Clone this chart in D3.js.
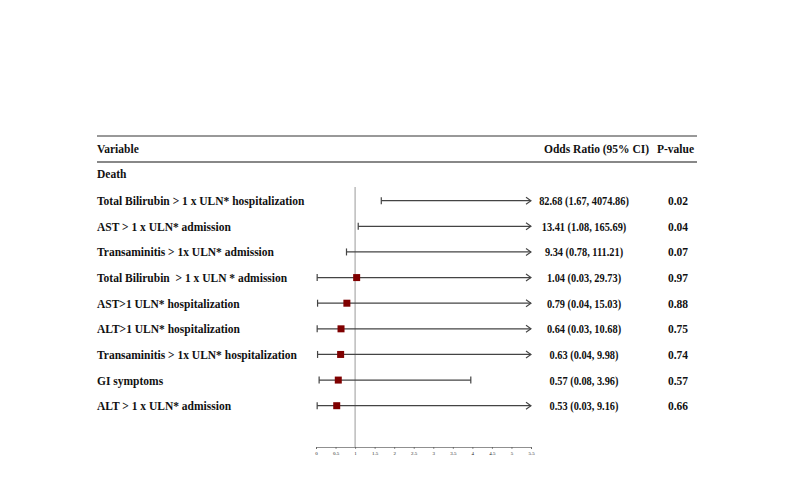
<!DOCTYPE html>
<html><head><meta charset="utf-8">
<script src="https://cdn.jsdelivr.net/npm/d3@7"></script>
<style>body{margin:0;background:#fff}svg{display:block}text{white-space:pre}</style>
</head><body><svg id="c" width="800" height="488"></svg>
<script>
const variables = ["Total Bilirubin > 1 x ULN* hospitalization","AST > 1 x ULN* admission","Transaminitis > 1x ULN* admission","Total Bilirubin  > 1 x ULN * admission","AST>1 ULN* hospitalization","ALT>1 ULN* hospitalization","Transaminitis > 1x ULN* hospitalization","GI symptoms","ALT > 1 x ULN* admission"];
const oddsRatio = [82.68,13.41,9.34,1.04,0.79,0.64,0.63,0.57,0.53];
const lower = [1.67,1.08,0.78,0.03,0.04,0.03,0.04,0.08,0.03];
const upper = [4074.86,165.69,111.21,29.73,15.03,10.68,9.98,3.96,9.16];
const pValues = ["0.02","0.04","0.07","0.97","0.88","0.75","0.74","0.57","0.66"];
const ticks = [0,0.5,1,1.5,2,2.5,3,3.5,4,4.5,5,5.5];

const svg = d3.select("#c");
const font = "'Liberation Serif','Times New Roman',serif";
const x = d3.scaleLinear().domain([0,5.5]).range([316,531]);
const y = d3.scaleLinear().domain([0,8]).range([200.7,405.7]);
const fmt = v => v.toFixed(2);

// header lines
svg.append("line").attr("x1",97).attr("x2",697).attr("y1",136).attr("y2",136).attr("stroke","#333").attr("stroke-width",1);
svg.append("line").attr("x1",97).attr("x2",697).attr("y1",162).attr("y2",162).attr("stroke","#888").attr("stroke-width",2);

const txt = (parent,t,xx,yy,anchor) => parent.append("text").attr("x",xx).attr("y",yy).attr("text-anchor",anchor||"start")
  .attr("font-family",font).attr("font-weight","bold").attr("font-size",11.5).attr("fill","#111").text(t);
txt(svg,"Variable",97,153);
txt(svg,"Odds Ratio (95% CI)",544,153);
txt(svg,"P-value",657,153);
txt(svg,"Death",97,178);

// reference line
svg.append("line").attr("x1",x(1)).attr("x2",x(1)).attr("y1",187).attr("y2",447).attr("stroke","#999").attr("stroke-width",1);

const rows = svg.append("g").selectAll("g").data(variables).join("g");
rows.each(function(d,i){
  const g = d3.select(this), yy = y(i);
  txt(g,d,97,yy+4.5);
  g.append("g").attr("transform",`translate(584,${yy+4.5}) scale(0.9,1)`)
    .call(s => txt(s,`${fmt(oddsRatio[i])} (${fmt(lower[i])}, ${fmt(upper[i])})`,0,0,"middle"));
  txt(g,pValues[i],678,yy+4.5,"middle");
  const lo = x(Math.max(lower[i],0)), over = upper[i] > 5.5;
  const hi = over ? x(5.5) : x(upper[i]);
  g.append("line").attr("x1",lo).attr("x2",hi).attr("y1",yy).attr("y2",yy).attr("stroke","#444").attr("stroke-width",1.2);
  g.append("line").attr("x1",lo).attr("x2",lo).attr("y1",yy-3.5).attr("y2",yy+3.5).attr("stroke","#444").attr("stroke-width",1.2);
  if(over){
    g.append("path").attr("d",`M${hi-5},${yy-3.5}L${hi},${yy}L${hi-5},${yy+3.5}`).attr("fill","none").attr("stroke","#444").attr("stroke-width",1.1);
  } else {
    g.append("line").attr("x1",hi).attr("x2",hi).attr("y1",yy-3.5).attr("y2",yy+3.5).attr("stroke","#444").attr("stroke-width",1.2);
  }
  if(oddsRatio[i] <= 5.5){
    g.append("rect").attr("x",x(oddsRatio[i])-3.5).attr("y",yy-3.5).attr("width",7).attr("height",7).attr("fill","#7f0000");
  }
});

// axis
const ax = svg.append("g").attr("transform","translate(0,447)")
  .call(d3.axisBottom(x).tickValues(ticks).tickFormat(d=>String(d)).tickSize(2).tickPadding(2));
ax.select(".domain").attr("stroke","#444").attr("stroke-width",0.6);
ax.selectAll(".tick line").attr("stroke","#444").attr("stroke-width",0.6);
ax.selectAll("text").attr("font-family",font).attr("font-size",5).attr("fill","#222");
</script></body></html>
